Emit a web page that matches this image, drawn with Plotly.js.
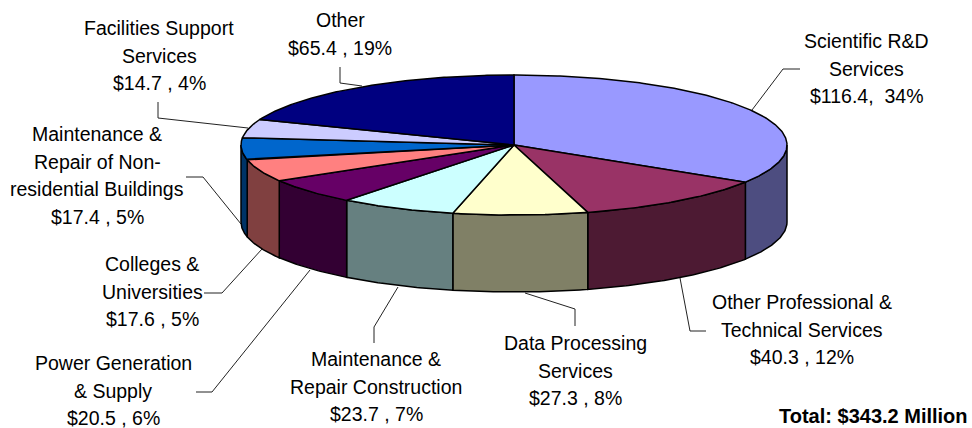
<!DOCTYPE html>
<html>
<head>
<meta charset="utf-8">
<script src="https://cdn.plot.ly/plotly-3.0.1.min.js"></script>
<style>html,body{margin:0;padding:0;background:#fff}#chart{width:972px;height:428px}</style>
</head>
<body>
<div id="chart"></div>
<script>
const categories = ["Scientific R&D Services","Other Professional & Technical Services","Data Processing Services","Maintenance & Repair Construction","Power Generation & Supply","Colleges & Universities","Maintenance & Repair of Non-residential Buildings","Facilities Support Services","Other"];
const values = [116.4,40.3,27.3,23.7,20.5,17.6,17.4,14.7,65.4];
const topColors = ["#9999FF","#993366","#FFFFCC","#CCFFFF","#660066","#FF8080","#0066CC","#CCCCFF","#000080"];
const wallColors = ["#4D4D80","#4D1A33","#808066","#668080","#330033","#804040","#003366","#666680","#000040"];
const labelLines = [
  ["Scientific R&D","Services","$116.4,  34%"],
  ["Other Professional &","Technical Services","$40.3 , 12%"],
  ["Data Processing","Services","$27.3 , 8%"],
  ["Maintenance &","Repair Construction","$23.7 , 7%"],
  ["Power Generation","& Supply","$20.5 , 6%"],
  ["Colleges &","Universities","$17.6 , 5%"],
  ["Maintenance &","Repair of Non-","residential Buildings","$17.4 , 5%"],
  ["Facilities Support","Services","$14.7 , 4%"],
  ["Other","$65.4 , 19%"]
];
const labelX = [866,802,575,376,113,152,97,159,340];
const labelTop = [41,302,343,359,363,264,134,28,20];
const leaders = [
  [[800,783,752],[69,69,110]],
  [[706,690,680],[331,331,278]],
  [[575,575,525],[326,309,293]],
  [[374,374,398],[343,327,287]],
  [[196,212,310],[392,392,270]],
  [[204,222,262],[293,293,249]],
  [[186,203,241],[177,177,224]],
  [[158,158,248],[102,118,128]],
  [[340,340,362],[67,83,86]]
];
const totalText = "Total: $343.2 Million";

const cx=514, cy=145, rx=273, ry=70, depth=77;
const lineStep=27.6, fontSize=19.5;
const sum = values.reduce((a,b)=>a+b,0);
const px = a => cx + rx*Math.sin(a);
const py = a => cy - ry*Math.cos(a);
function arc(a0,a1){
  const n=Math.max(2,Math.ceil(Math.abs(a1-a0)/0.01)), pts=[];
  for(let i=0;i<=n;i++) pts.push(a0+(a1-a0)*i/n);
  return pts;
}
const traces=[];
leaders.forEach(l=>traces.push({type:"scatter",mode:"lines",x:l[0],y:l[1],line:{color:"#222",width:1},hoverinfo:"skip"}));
let acc=0; const walls=[], tops=[];
values.forEach((v,i)=>{
  const a0=acc/sum*2*Math.PI; acc+=v; const a1=acc/sum*2*Math.PI;
  const s=Math.max(a0,Math.PI/2), e=Math.min(a1,1.5*Math.PI);
  if(e>s){
    const up=arc(s,e), down=up.slice().reverse();
    walls.push({type:"scatter",mode:"lines",fill:"toself",fillcolor:wallColors[i],
      x:up.map(px).concat(down.map(px),[px(s)]),
      y:up.map(py).concat(down.map(a=>py(a)+depth),[py(s)]),
      line:{color:"#000",width:1.5},hoverinfo:"skip",name:categories[i]});
  }
  const t=arc(a0,a1);
  tops.push({type:"scatter",mode:"lines",fill:"toself",fillcolor:topColors[i],
    x:[cx].concat(t.map(px),[cx]), y:[cy].concat(t.map(py),[cy]),
    line:{color:"#000",width:1.5},hoverinfo:"skip",name:categories[i]});
});
traces.push(...walls,...tops);
const annotations=[];
labelLines.forEach((lines,i)=>lines.forEach((txt,j)=>annotations.push({
  x:labelX[i],y:labelTop[i]+j*lineStep,text:txt.replace(/&/g,"&amp;"),showarrow:false,xanchor:"center",yanchor:"middle",
  font:{family:"Liberation Sans, Arial, sans-serif",size:fontSize,color:"#000"}})));
annotations.push({x:970,y:416,text:"<b>"+totalText+"</b>",showarrow:false,xanchor:"right",yanchor:"middle",
  font:{family:"Liberation Sans, Arial, sans-serif",size:20,color:"#000"}});
Plotly.newPlot("chart",traces,{
  width:972,height:428,margin:{l:0,r:0,t:0,b:0},showlegend:false,
  paper_bgcolor:"#fff",plot_bgcolor:"#fff",
  xaxis:{range:[0,972],visible:false,fixedrange:true},
  yaxis:{range:[428,0],visible:false,fixedrange:true},
  annotations
},{displayModeBar:false,staticPlot:true});
</script>
</body>
</html>
